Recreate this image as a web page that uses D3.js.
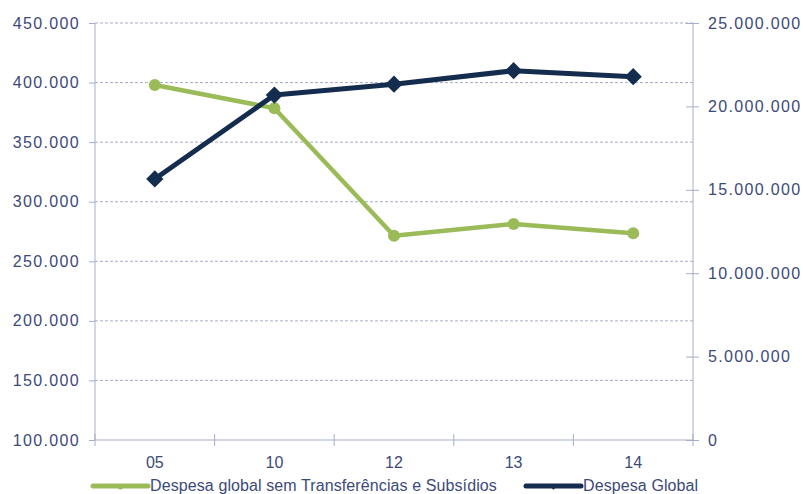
<!DOCTYPE html>
<html>
<head>
<meta charset="utf-8">
<script src="https://cdn.jsdelivr.net/npm/d3@7"></script>
<style>
	body { margin: 0; background: #fff; }
	text { font-family: "Liberation Sans", Arial, sans-serif; fill: #3c4a78; }
	.tickLabel { font-size: 16px; letter-spacing: 1.35px; }
	.catLabel { font-size: 16px; }
	.legendLabel { font-size: 16px; letter-spacing: 0.1px; }
</style>
</head>
<body>
<div id="chart"></div>
<script>
var years = ["05", "10", "12", "13", "14"];
var semTransferencias = [398000, 378500, 271500, 281300, 273500];
var despesaGlobal = [15650000, 20680000, 21330000, 22140000, 21780000];
var leftTicks = [100000, 150000, 200000, 250000, 300000, 350000, 400000, 450000];
var rightTicks = [0, 5000000, 10000000, 15000000, 20000000, 25000000];
var seriesNames = ["Despesa global sem Transferências e Subsídios", "Despesa Global"];

var GREEN = "#9bbb59",
	NAVY = "#142d4e",
	AXIS = "#a6adcb";

var ptFormat = d3.formatLocale({decimal: ",", thousands: ".", grouping: [3], currency: ["", " €"]}).format(",d");

var width = 803,
	height = 494,
	plotLeft = 95,
	plotRight = 693,
	plotTop = 23,
	plotBottom = 440;

var svg = d3.select("#chart")
	.append("svg")
	.attr("width", width)
	.attr("height", height);

var xScale = d3.scaleBand().domain(years).range([plotLeft, plotRight]);
var yLeft = d3.scaleLinear().domain([100000, 450000]).range([plotBottom, plotTop]);
var yRight = d3.scaleLinear().domain([0, 25000000]).range([plotBottom, plotTop]);

// dashed gridlines from the left axis
svg.append("g")
	.selectAll("line")
	.data(leftTicks.slice(1))
	.enter()
	.append("line")
	.attr("x1", plotLeft)
	.attr("x2", plotRight)
	.attr("y1", function(d) { return yLeft(d); })
	.attr("y2", function(d) { return yLeft(d); })
	.attr("stroke", AXIS)
	.attr("stroke-width", 1)
	.attr("stroke-dasharray", "3,2");

// left axis
var leftAxis = svg.append("g")
	.attr("transform", "translate(" + plotLeft + ",0)")
	.call(d3.axisLeft(yLeft).tickValues(leftTicks).tickSize(6).tickPadding(9).tickFormat(ptFormat));

// right axis, ticks cross the line
var rightAxis = svg.append("g")
	.attr("transform", "translate(" + plotRight + ",0)")
	.call(d3.axisRight(yRight).tickValues(rightTicks).tickSize(6).tickPadding(9).tickFormat(ptFormat));
rightAxis.selectAll(".tick line").attr("x1", -7);

[leftAxis, rightAxis].forEach(function(g) {
	g.select(".domain").attr("stroke", AXIS).attr("d", "M0," + plotTop + "V" + plotBottom);
	g.selectAll(".tick line").attr("stroke", AXIS);
	g.selectAll(".tick text")
		.attr("class", "tickLabel")
		.attr("fill", null);
	g.attr("font-size", null).attr("font-family", null);
});

// bottom axis: ticks between categories
var bounds = years.map(function(d) { return xScale(d); }).concat([plotRight]);
svg.append("line")
	.attr("x1", plotLeft).attr("x2", plotRight)
	.attr("y1", plotBottom).attr("y2", plotBottom)
	.attr("stroke", AXIS);

svg.append("g")
	.selectAll("line")
	.data(bounds)
	.enter()
	.append("line")
	.attr("x1", function(d) { return d; })
	.attr("x2", function(d) { return d; })
	.attr("y1", plotBottom - 6)
	.attr("y2", plotBottom + 6)
	.attr("stroke", AXIS);

svg.append("g")
	.selectAll("text")
	.data(years)
	.enter()
	.append("text")
	.attr("class", "catLabel")
	.attr("x", function(d) { return xScale(d) + xScale.bandwidth() / 2; })
	.attr("y", 468)
	.attr("text-anchor", "middle")
	.text(function(d) { return d; });

function cx(i) { return xScale(years[i]) + xScale.bandwidth() / 2; }

// green series on the left axis
var greenLine = d3.line()
	.x(function(d, i) { return cx(i); })
	.y(function(d) { return yLeft(d); });

svg.append("path")
	.datum(semTransferencias)
	.attr("d", greenLine)
	.attr("fill", "none")
	.attr("stroke", GREEN)
	.attr("stroke-width", 4.5)
	.attr("stroke-linejoin", "round");

svg.selectAll(".greenDot")
	.data(semTransferencias)
	.enter()
	.append("circle")
	.attr("class", "greenDot")
	.attr("cx", function(d, i) { return cx(i); })
	.attr("cy", function(d) { return yLeft(d); })
	.attr("r", 6)
	.attr("fill", GREEN);

// navy series on the right axis
var navyLine = d3.line()
	.x(function(d, i) { return cx(i); })
	.y(function(d) { return yRight(d); });

svg.append("path")
	.datum(despesaGlobal)
	.attr("d", navyLine)
	.attr("fill", "none")
	.attr("stroke", NAVY)
	.attr("stroke-width", 5)
	.attr("stroke-linejoin", "round");

var diamond = d3.symbol().type(d3.symbolDiamond2).size(190);
svg.selectAll(".navyDot")
	.data(despesaGlobal)
	.enter()
	.append("path")
	.attr("class", "navyDot")
	.attr("d", diamond)
	.attr("transform", function(d, i) { return "translate(" + cx(i) + "," + yRight(d) + ")"; })
	.attr("fill", NAVY);

// legend
var legend = [
	{name: seriesNames[0], color: GREEN, x: 93, marker: "circle"},
	{name: seriesNames[1], color: NAVY, x: 526, marker: "diamond"}
];

var lg = svg.selectAll(".legendItem")
	.data(legend)
	.enter()
	.append("g")
	.attr("class", "legendItem")
	.attr("transform", function(d) { return "translate(" + d.x + ",486)"; });

lg.append("line")
	.attr("x1", 0).attr("x2", 55)
	.attr("y1", 0).attr("y2", 0)
	.attr("stroke", function(d) { return d.color; })
	.attr("stroke-width", 5)
	.attr("stroke-linecap", "round");

lg.append("path")
	.attr("d", function(d) { return d.marker === "circle" ? d3.symbol().type(d3.symbolCircle).size(20)() : d3.symbol().type(d3.symbolDiamond2).size(20)(); })
	.attr("transform", "translate(27.5,1)")
	.attr("fill", function(d) { return d.color; });

lg.append("text")
	.attr("class", "legendLabel")
	.attr("x", 57)
	.attr("y", 5)
	.text(function(d) { return d.name; });
</script>
</body>
</html>
